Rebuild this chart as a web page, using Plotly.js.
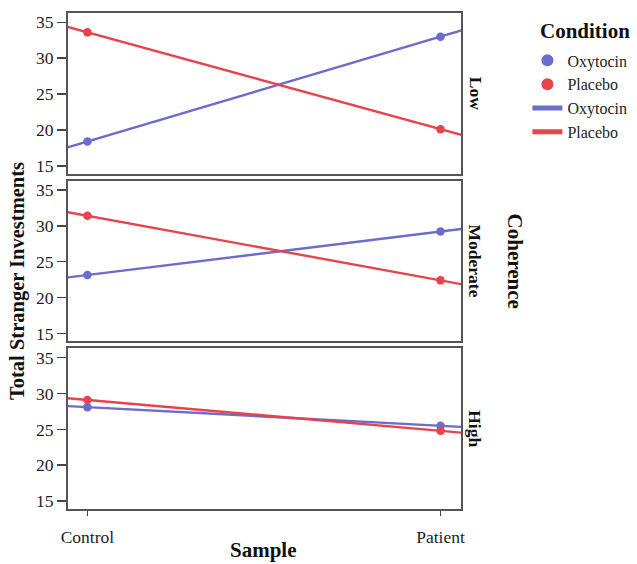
<!DOCTYPE html>
<html>
<head>
<meta charset="utf-8">
<script src="https://cdn.plot.ly/plotly-3.0.1.min.js"></script>
<style>html,body{margin:0;padding:0;background:#fff;}#chart{width:637px;height:564px;}</style>
</head>
<body>
<div id="chart"></div>
<script>
// ---- data ----
const categories = ['Control', 'Patient'];
const panels = ['Low', 'Moderate', 'High'];
const conditions = ['Oxytocin', 'Placebo'];
const oxytocinLow = [18.4, 33.0];
const placeboLow = [33.6, 20.1];
const oxytocinModerate = [23.15, 29.2];
const placeboModerate = [31.4, 22.4];
const oxytocinHigh = [28.1, 25.5];
const placeboHigh = [29.1, 24.8];
const yTicks = [15, 20, 25, 30, 35];

const colors = {Oxytocin: '#6b6ccd', Placebo: '#e8424b'};
const FONT = 'Liberation Serif, Times New Roman, serif';
const xpos = [0, 1];
const seriesByPanel = {
  Low: {Oxytocin: oxytocinLow, Placebo: placeboLow},
  Moderate: {Oxytocin: oxytocinModerate, Placebo: placeboModerate},
  High: {Oxytocin: oxytocinHigh, Placebo: placeboHigh}
};
const axisIdx = {High: '', Moderate: '2', Low: '3'};

const traces = [];
panels.forEach(p => {
  conditions.forEach(c => {
    const ys = seriesByPanel[p][c];
    traces.push({
      type: 'scatter', mode: 'markers', x: xpos, y: ys,
      xaxis: 'x' + axisIdx[p], yaxis: 'y' + axisIdx[p],
      marker: {color: colors[c], size: 8.5},
      name: c, legendgroup: 'm' + c, showlegend: p === 'Low',
      legendrank: c === 'Oxytocin' ? 1 : 2, hoverinfo: 'skip'
    });
  });
});
panels.forEach(p => {
  conditions.forEach(c => {
    const ys = seriesByPanel[p][c];
    const slope = ys[1] - ys[0];
    const ext = [-0.3, 0, 1, 1.3];
    traces.push({
      type: 'scatter', mode: 'lines', x: ext, y: ext.map(t => ys[0] + slope * t),
      xaxis: 'x' + axisIdx[p], yaxis: 'y' + axisIdx[p],
      line: {color: colors[c], width: 2.4},
      name: c, legendgroup: 'l' + c, showlegend: p === 'Low',
      legendrank: c === 'Oxytocin' ? 3 : 4, hoverinfo: 'skip'
    });
  });
});

const mT = 12.5, mB = 54.5, mL = 68, mR = 175.5;
const plotH = 564 - mT - mB;
const plotW = 637 - mL - mR;
const panelH = 161, gap = 7;
const dom = [
  [0, panelH / plotH],
  [(panelH + gap) / plotH, (2 * panelH + gap) / plotH],
  [(2 * panelH + 2 * gap) / plotH, 1]
];
const xRange = [-0.055, 1.058];
const yRange = [13.9, 36.3];
const px = v => (v - mL) / plotW;          // pixel x -> paper x
const py = v => (564 - mB - v) / plotH;     // pixel y -> paper y

function xax(anchor, labels) {
  return {
    domain: [0, 1], range: xRange, anchor: anchor,
    tickvals: xpos, ticktext: categories, showticklabels: labels,
    ticks: labels ? 'outside' : '', ticklen: 5, tickwidth: 1.5, tickcolor: '#444',
    ticklabelstandoff: 6,
    showline: true, mirror: true, linecolor: '#555', linewidth: 2,
    showgrid: false, zeroline: false,
    tickfont: {family: FONT, size: 17.5, color: '#222'}
  };
}
function yax(anchor, d) {
  return {
    domain: d, range: yRange, anchor: anchor,
    tickvals: yTicks, ticks: 'outside', ticklen: 9, tickwidth: 1.5, tickcolor: '#444',
    ticklabelstandoff: 0,
    showline: true, mirror: true, linecolor: '#555', linewidth: 2,
    showgrid: false, zeroline: false,
    tickfont: {family: FONT, size: 17.5, color: '#222'}
  };
}

const annotations = [];
const panelDomIdx = {High: 0, Moderate: 1, Low: 2};
panels.forEach(p => {
  const d = dom[panelDomIdx[p]];
  annotations.push({
    text: '<b>' + p + '</b>', xref: 'paper', yref: 'paper',
    x: px(476), y: (d[0] + d[1]) / 2, xanchor: 'center', yanchor: 'middle',
    textangle: 90, showarrow: false,
    font: {family: FONT, size: 17.5, color: '#111'}
  });
});
annotations.push({
  text: '<b>Coherence</b>', xref: 'paper', yref: 'paper',
  x: px(516), y: py(261), xanchor: 'center', yanchor: 'middle',
  textangle: 90, showarrow: false, font: {family: FONT, size: 21, color: '#111'}
});
annotations.push({
  text: '<b>Total Stranger Investments</b>', xref: 'paper', yref: 'paper',
  x: px(18), y: py(281), xanchor: 'center', yanchor: 'middle',
  textangle: -90, showarrow: false, font: {family: FONT, size: 20.5, color: '#111'}
});
annotations.push({
  text: '<b>Sample</b>', xref: 'paper', yref: 'paper',
  x: px(264), y: py(551), xanchor: 'center', yanchor: 'middle',
  showarrow: false, font: {family: FONT, size: 21, color: '#111'}
});
annotations.push({
  text: '<b>Condition</b>', xref: 'paper', yref: 'paper',
  x: px(539), y: py(31), xanchor: 'left', yanchor: 'middle',
  showarrow: false, font: {family: FONT, size: 21, color: '#111'}
});

const layout = {
  width: 637, height: 564,
  margin: {l: mL, r: mR, t: mT, b: mB, autoexpand: false},
  paper_bgcolor: '#fff', plot_bgcolor: '#fff',
  font: {family: FONT, color: '#222'},
  xaxis: xax('y', true), yaxis: yax('x', dom[0]),
  xaxis2: xax('y2', false), yaxis2: yax('x2', dom[1]),
  xaxis3: xax('y3', false), yaxis3: yax('x3', dom[2]),
  showlegend: true,
  legend: {
    x: px(528), y: py(43), xanchor: 'left', yanchor: 'top',
    font: {family: FONT, size: 16, color: '#222'},
    itemsizing: 'constant', tracegroupgap: 0, traceorder: 'normal',
    bgcolor: 'rgba(0,0,0,0)'
  },
  annotations: annotations
};

Plotly.newPlot('chart', traces, layout, {displayModeBar: false, staticPlot: true});
</script>
</body>
</html>
